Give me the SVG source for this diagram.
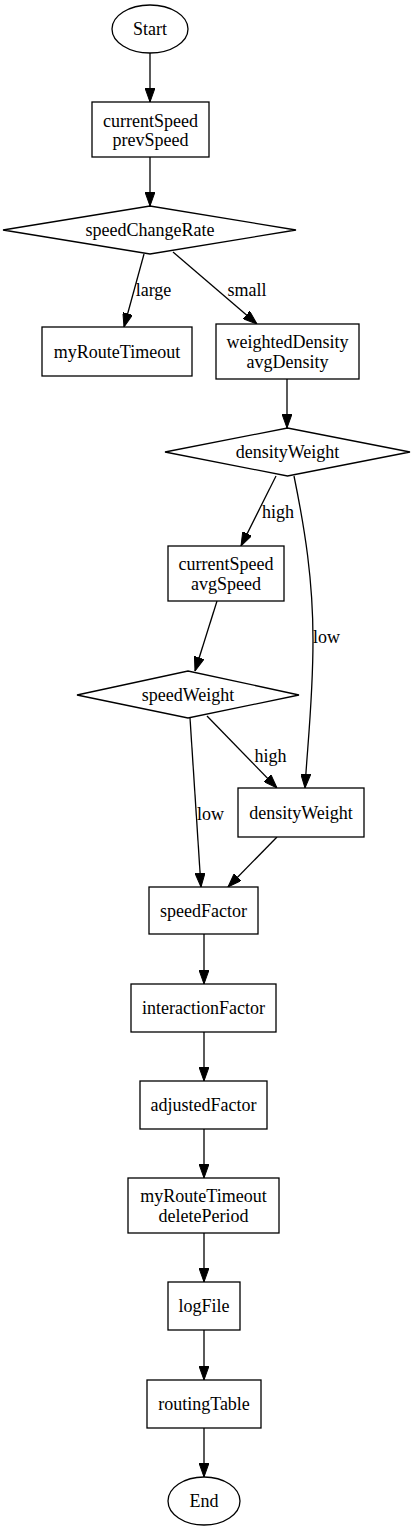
<svg xmlns="http://www.w3.org/2000/svg" width="414" height="1531" viewBox="0 0 414 1531">
<defs>
<style>
.n{fill:#fff;stroke:#000;stroke-width:1.3}
.t{font-family:"Liberation Serif","Times New Roman",serif;font-size:18px;fill:#000;text-anchor:middle}
.e{fill:none;stroke:#000;stroke-width:1.3}
</style>
<marker id="ah" viewBox="0 0 14 10" refX="14" refY="5" markerWidth="14" markerHeight="10" markerUnits="userSpaceOnUse" orient="auto">
<path d="M0,0 L14,5 L0,10 Z" fill="#000" stroke="#000" stroke-width="1"/>
</marker>
</defs>
<rect width="414" height="1531" fill="#fff"/>
<g id="connectors">
<path class="e" marker-end="url(#ah)" d="M150,53 L150,102"/>
<path class="e" marker-end="url(#ah)" d="M150,157 L150,206"/>
<path class="e" marker-end="url(#ah)" d="M144,254 L124,327"/>
<text class="t" x="153.5" y="296">large</text>
<path class="e" marker-end="url(#ah)" d="M173,252 L257,324"/>
<text class="t" x="247" y="296">small</text>
<path class="e" marker-end="url(#ah)" d="M287,379 L287,428"/>
<path class="e" marker-end="url(#ah)" d="M276,476 L241,546"/>
<text class="t" x="278" y="518">high</text>
<path class="e" marker-end="url(#ah)" d="M294,476 C305,530 313,580 313,640 C313,700 307,750 305,788"/>
<text class="t" x="326.5" y="643">low</text>
<path class="e" marker-end="url(#ah)" d="M217,601 L195,671"/>
<path class="e" marker-end="url(#ah)" d="M207,716 L277,788"/>
<text class="t" x="270.5" y="762">high</text>
<path class="e" marker-end="url(#ah)" d="M190,718 L201,887"/>
<text class="t" x="210.5" y="820">low</text>
<path class="e" marker-end="url(#ah)" d="M277,837 L228,887"/>
<path class="e" marker-end="url(#ah)" d="M204,934 L204,984"/>
<path class="e" marker-end="url(#ah)" d="M204,1032 L204,1081"/>
<path class="e" marker-end="url(#ah)" d="M204,1129 L204,1178"/>
<path class="e" marker-end="url(#ah)" d="M204,1233 L204,1282"/>
<path class="e" marker-end="url(#ah)" d="M204,1330 L204,1380"/>
<path class="e" marker-end="url(#ah)" d="M204,1428 L204,1477"/>
</g>
<g id="start"><ellipse class="n" cx="150" cy="29" rx="38" ry="24"/><text class="t" x="150" y="35">Start</text></g>
<g id="speeds1"><rect class="n" x="92" y="102" width="117" height="55"/><text class="t" x="150.5" y="126.5">currentSpeed</text><text class="t" x="150.5" y="145.5">prevSpeed</text></g>
<g id="speedChangeRate"><polygon class="n" points="3,230 150,206 296,230 150,254"/><text class="t" x="150" y="236">speedChangeRate</text></g>
<g id="myRouteTimeout1"><rect class="n" x="42" y="327" width="150" height="49"/><text class="t" x="117" y="357.5">myRouteTimeout</text></g>
<g id="density"><rect class="n" x="216" y="324" width="143" height="55"/><text class="t" x="287.5" y="347.5">weightedDensity</text><text class="t" x="287.5" y="367.5">avgDensity</text></g>
<g id="densityWeightDec"><polygon class="n" points="165,452 287.5,428 410,452 287.5,476"/><text class="t" x="287.5" y="458">densityWeight</text></g>
<g id="speeds2"><rect class="n" x="168" y="546" width="116" height="55"/><text class="t" x="226" y="569.5">currentSpeed</text><text class="t" x="226" y="589.5">avgSpeed</text></g>
<g id="speedWeightDec"><polygon class="n" points="77,695 188,671 299,695 188,718"/><text class="t" x="188" y="701">speedWeight</text></g>
<g id="densityWeightBox"><rect class="n" x="238" y="788" width="126" height="49"/><text class="t" x="301" y="818.5">densityWeight</text></g>
<g id="speedFactor"><rect class="n" x="149" y="887" width="109" height="47"/><text class="t" x="203.5" y="916.5">speedFactor</text></g>
<g id="interactionFactor"><rect class="n" x="131" y="984" width="145" height="48"/><text class="t" x="203.5" y="1014">interactionFactor</text></g>
<g id="adjustedFactor"><rect class="n" x="140" y="1081" width="127" height="48"/><text class="t" x="203.5" y="1111">adjustedFactor</text></g>
<g id="myRouteTimeout2"><rect class="n" x="128" y="1178" width="151" height="55"/><text class="t" x="203.5" y="1202">myRouteTimeout</text><text class="t" x="203.5" y="1222">deletePeriod</text></g>
<g id="logFile"><rect class="n" x="168" y="1282" width="72" height="48"/><text class="t" x="204" y="1312">logFile</text></g>
<g id="routingTable"><rect class="n" x="147" y="1380" width="114" height="48"/><text class="t" x="204" y="1410">routingTable</text></g>
<g id="end"><ellipse class="n" cx="204" cy="1501" rx="36" ry="24"/><text class="t" x="204" y="1507">End</text></g>
</svg>
